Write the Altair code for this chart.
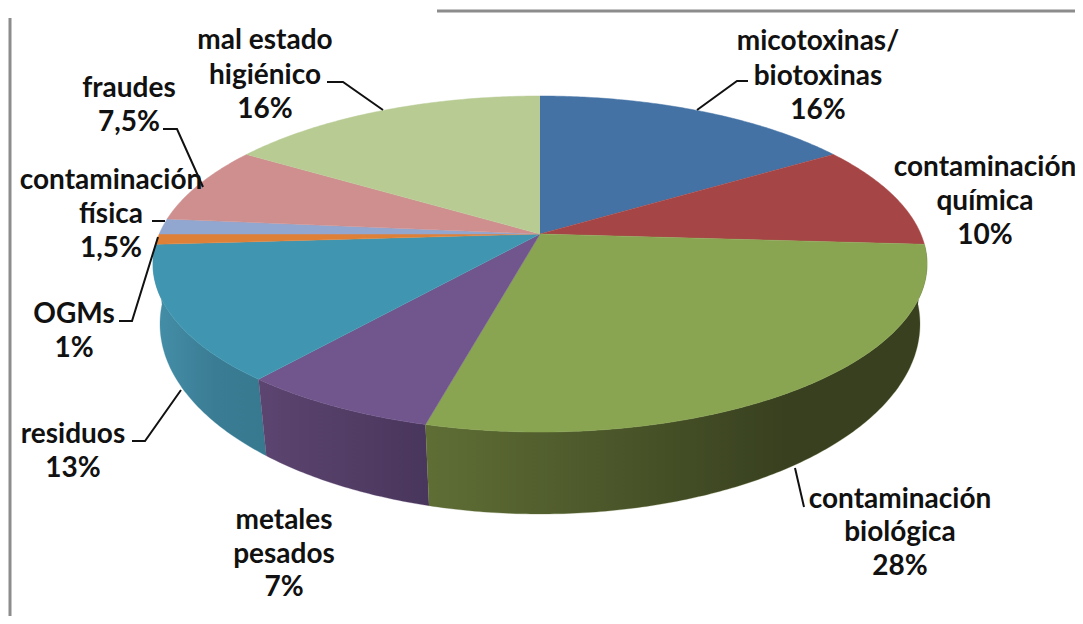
import math
import altair as alt
import pandas as pd

# --- chart values (percent, clockwise from the top) ---
categories = ["micotoxinas/biotoxinas", "contaminación química", "contaminación biológica",
              "metales pesados", "residuos", "OGMs", "contaminación física", "fraudes",
              "mal estado higiénico"]
values = [16, 10, 28, 7, 13, 1, 1.5, 7.5, 16]
top_colors = ["#4472A4", "#A64545", "#89A551", "#70568C", "#4096B0",
              "#DF8038", "#92A7CF", "#CE8F8E", "#B7CB93"]

# label text
label_text = ["micotoxinas/", "biotoxinas", "16%", "contaminación", "química", "10%",
              "contaminación", "biológica", "28%", "metales", "pesados", "7%",
              "residuos", "13%", "OGMs", "1%", "contaminación", "física", "1,5%",
              "fraudes", "7,5%", "mal estado", "higiénico", "16%"]
label_x = [818, 818, 818, 985, 985, 985, 900, 900, 900, 284, 284, 284,
           73, 73, 74, 74, 111, 111, 111, 129, 129, 265, 265, 265]
label_y = [42, 77, 111, 168, 202, 236, 500, 533, 567, 521, 555, 588,
           435, 469, 315, 349, 181, 215, 249, 89, 123, 41, 76, 110]

# leader lines
leaders = [
    [(748, 81), (737, 81), (697, 110)],
    [(795, 468), (804, 507)],
    [(132, 441), (145, 441), (181, 390)],
    [(119, 321), (132, 321), (158, 237)],
    [(152, 221), (165, 221)],
    [(163, 129), (177, 129), (203, 187)],
    [(327, 82), (343, 82), (383, 110)],
]

# side gradients: (slice index, [(offset, colour), ...])
sides = [
    (4, [(0, "#458FA9"), (0.55, "#3A7C93"), (1, "#377A90")]),
    (3, [(0, "#5C4570"), (1, "#49365C")]),
    (2, [(0, "#5F6E35"), (0.72, "#38401F"), (1, "#38401F")]),
]

# --- pie geometry ---
CX, APEX_Y = 540, 234
RIM_CY, RIM_RX, RIM_RY = 264, 387, 168
LOW_CY, LOW_RX, LOW_RY = 324, 380, 190
A = (RIM_CY - APEX_Y) / RIM_RY
LOW_A = 0.165


def rim(pct, a):
    """Unit-circle point for a share of the pie, in perspective."""
    phi = pct / 100 * 2 * math.pi
    x, y = math.sin(phi), math.cos(phi)
    d = 1 + a * y
    return x * math.sqrt(1 - a * a) / d, (y + a) / d


def top_pt(p):
    u, v = rim(p, A)
    return CX + RIM_RX * u, RIM_CY - RIM_RY * v


def low_pt(p):
    u, v = rim(p, LOW_A)
    return CX + LOW_RX * u, LOW_CY - LOW_RY * v


def arc(a, b, fn):
    n = max(4, int((b - a) * 6))
    return [fn(a + (b - a) * i / n) for i in range(n + 1)]


edges = [0]
for v in values:
    edges.append(edges[-1] + v)

top_rows = []
for i, c in enumerate(categories):
    pts = [(CX, APEX_Y)] + arc(edges[i], edges[i + 1], top_pt)
    for k, (x, y) in enumerate(pts):
        top_rows.append({"slice": c, "i": k, "x": x, "y": y, "color": top_colors[i]})

X = alt.X("x:Q", axis=None, scale=alt.Scale(domain=[8, 1075], nice=False, zero=False))
Y = alt.Y("y:Q", axis=None, scale=alt.Scale(domain=[8, 616], nice=False, zero=False, reverse=True))

layers = []
for idx, stops in sides:
    a, b = edges[idx], edges[idx + 1]
    pts = arc(a, b, top_pt) + arc(a, b, low_pt)[::-1]
    df = pd.DataFrame([{"i": k, "x": x, "y": y} for k, (x, y) in enumerate(pts)])
    grad = alt.LinearGradient(gradient="linear", x1=0, x2=1, y1=0, y2=0,
                              stops=[alt.GradientStop(offset=o, color=c) for o, c in stops])
    layers.append(alt.Chart(df).mark_line(fill=grad, stroke=stops[0][1], strokeWidth=0.3,
                                          interpolate="linear")
                  .encode(x=X, y=Y, order="i:Q"))

layers.append(
    alt.Chart(pd.DataFrame(top_rows)).mark_line(strokeWidth=0.5, interpolate="linear")
    .encode(x=X, y=Y, order="i:Q", detail="slice:N",
            fill=alt.Fill("color:N", scale=None), stroke=alt.Stroke("color:N", scale=None))
)

leader_rows = [{"k": n, "i": i, "x": p[0], "y": p[1]} for n, l in enumerate(leaders) for i, p in enumerate(l)]
layers.append(
    alt.Chart(pd.DataFrame(leader_rows)).mark_line(color="#111111", strokeWidth=2)
    .encode(x=X, y=Y, order="i:Q", detail="k:N")
)

frame = pd.DataFrame({"k": [0, 0, 1, 1], "i": [0, 1, 0, 1],
                      "x": [437, 1075, 10, 10], "y": [11, 11, 18, 616]})
layers.append(
    alt.Chart(frame).mark_line(color="#8C8C8C", strokeWidth=3)
    .encode(x=X, y=Y, order="i:Q", detail="k:N")
)

labels = pd.DataFrame({"t": label_text, "x": label_x, "y": label_y})
layers.append(
    alt.Chart(labels).mark_text(font="Lato", fontSize=28, fontWeight="bold", color="#111111",
                                align="center", baseline="middle")
    .encode(x=X, y=Y, text="t:N")
)

chart = alt.layer(*layers).properties(
    width=1067, height=608, background="white",
    padding=alt.Padding(left=0, top=0, right=0, bottom=0),
    autosize=alt.AutoSizeParams(type="none")
).configure_view(stroke=None)
chart.save("out.html", embed_options={"renderer": "svg", "actions": False})
